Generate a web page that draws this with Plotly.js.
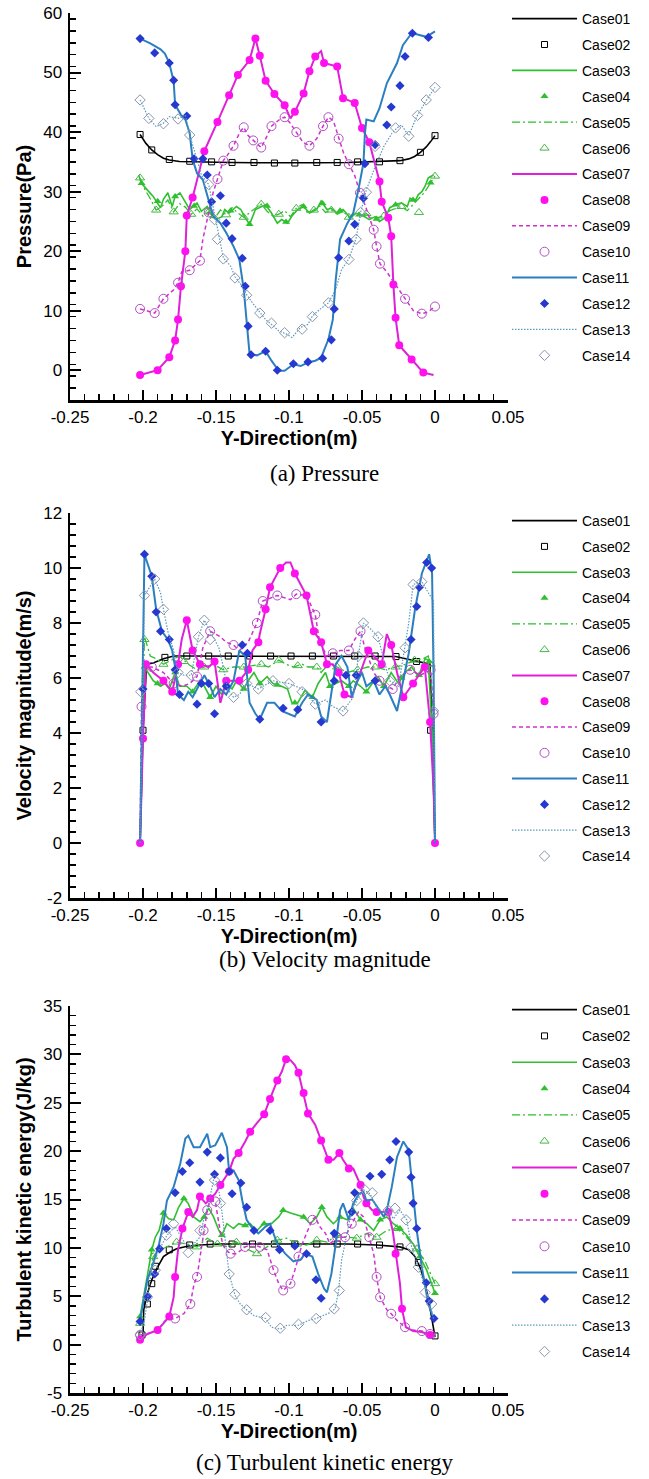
<!DOCTYPE html>
<html><head><meta charset="utf-8">
<script src="https://cdn.plot.ly/plotly-3.0.1.min.js"></script>
<style>html,body{margin:0;padding:0;background:#fff}</style>
</head><body>
<div id="chart" style="width:649px;height:1479px"></div>
<script>
const caseNames = ['Case01','Case02','Case03','Case04','Case05','Case06','Case07','Case08','Case09','Case10','Case11','Case12','Case13','Case14'];
const xTickVals = [-0.25,-0.2,-0.15,-0.1,-0.05,0,0.05];
const xTickText = ['-0.25','-0.2','-0.15','-0.1','-0.05','0','0.05'];
const aTickVals = [0,10,20,30,40,50,60];
const aTickText = ['0','10','20','30','40','50','60'];
const bTickVals = [-2,0,2,4,6,8,10,12];
const bTickText = ['-2','0','2','4','6','8','10','12'];
const cTickVals = [-5,0,5,10,15,20,25,30,35];
const cTickText = ['-5','0','5','10','15','20','25','30','35'];
const titleA = 'Pressure(Pa)', titleB = 'Velocity magnitude(m/s)', titleC = 'Turbulent kinetic energy(J/kg)';
const xTitle = 'Y-Direction(m)';
const captions = ['(a) Pressure','(b) Velocity magnitude','(c) Turbulent kinetic energy'];

// ---------- (a) Pressure ----------
const aX01=[-0.202,-0.198,-0.194,-0.19,-0.186,-0.182,-0.175,-0.168,-0.155,-0.14,-0.12,-0.1,-0.08,-0.06,-0.04,-0.03,-0.024,-0.018,-0.014,-0.01,-0.006,-0.003,0];
const aY01=[39.6,38.1,37.0,36.2,35.6,35.3,35.05,35.0,34.95,34.9,34.85,34.8,34.85,34.9,35.0,35.1,35.2,35.5,35.9,36.6,37.5,38.4,39.4];
const aX02=[-0.202,-0.194,-0.182,-0.168,-0.153,-0.139,-0.124,-0.11,-0.096,-0.081,-0.067,-0.053,-0.038,-0.024,-0.01,0];
const aY02=[39.6,37.0,35.4,35.1,35.0,34.9,34.9,34.8,34.8,34.9,34.9,35.0,35.0,35.2,36.6,39.4];
const aX03=[-0.203,-0.201,-0.196,-0.193,-0.191,-0.188,-0.186,-0.183,-0.18,-0.178,-0.1747,-0.1712,-0.168,-0.163,-0.16,-0.156,-0.153,-0.15,-0.146,-0.144,-0.141,-0.136,-0.133,-0.13,-0.127,-0.123,-0.119,-0.116,-0.112,-0.108,-0.105,-0.101,-0.098,-0.094,-0.09,-0.086,-0.081,-0.078,-0.074,-0.071,-0.067,-0.063,-0.058,-0.054,-0.049,-0.045,-0.041,-0.038,-0.034,-0.031,-0.027,-0.023,-0.019,-0.017,-0.0137,-0.0114,-0.009,-0.0068,-0.0046,-0.001];
const aY03=[32.8,31.4,30.0,29.2,28.4,27.3,28.7,29.8,27.5,29.2,29.8,28.4,27.0,28.1,26.7,27.5,26.1,25.3,25.8,27.0,26.4,27.5,27.0,25.6,24.5,27.0,27.5,27.8,26.4,24.7,25.3,24.7,25.9,27.0,27.5,26.4,27.0,28.4,27.0,27.2,26.4,27.0,25.6,26.4,25.9,25.3,25.8,25.0,25.6,27.3,27.8,28.1,27.5,28.9,28.4,29.5,30.0,30.9,32.3,32.8];
const aX04=[-0.201,-0.19,-0.178,-0.165,-0.152,-0.14,-0.127,-0.115,-0.102,-0.09,-0.077,-0.065,-0.052,-0.04,-0.027,-0.015,-0.003];
const aY04=[31.4,28.4,29.2,27.6,25.8,26.8,24.5,27.6,24.9,27.5,28.0,26.8,26.1,25.4,27.8,28.6,31.5];
const aX05=[-0.202,-0.199,-0.195,-0.191,-0.187,-0.183,-0.179,-0.175,-0.171,-0.167,-0.163,-0.159,-0.155,-0.151,-0.147,-0.143,-0.139,-0.135,-0.131,-0.127,-0.123,-0.119,-0.115,-0.111,-0.107,-0.103,-0.099,-0.095,-0.091,-0.087,-0.083,-0.079,-0.075,-0.071,-0.067,-0.063,-0.059,-0.055,-0.051,-0.047,-0.043,-0.039,-0.035,-0.031,-0.027,-0.023,-0.019,-0.015,-0.011,-0.007,-0.003,0];
const aY05=[32.3,30.5,28.8,26.9,27.5,28.6,26.6,28.0,27.4,26.2,27.1,25.9,26.6,25.5,26.9,26.1,27.3,26.4,25.7,26.5,27.2,27.9,26.7,25.9,26.2,26.8,25.8,27.2,27.8,26.3,26.9,27.6,26.5,26.9,26.2,26.7,25.7,26.4,25.8,26.3,25.4,25.7,25.9,26.8,27.2,27.5,26.8,27.8,28.8,29.9,31.5,32.6];
const aX06=[-0.202,-0.191,-0.179,-0.167,-0.155,-0.143,-0.131,-0.119,-0.107,-0.095,-0.083,-0.071,-0.059,-0.047,-0.035,-0.023,-0.011,0];
const aY06=[32.3,26.9,26.6,26.2,26.6,26.1,25.7,27.9,26.2,27.2,26.9,26.9,25.7,26.3,25.9,27.5,26.5,32.6];
const aX07=[-0.202,-0.19,-0.182,-0.178,-0.176,-0.174,-0.171,-0.17,-0.166,-0.158,-0.149,-0.141,-0.135,-0.127,-0.123,-0.12,-0.116,-0.11,-0.103,-0.099,-0.096,-0.09,-0.086,-0.082,-0.078,-0.076,-0.067,-0.063,-0.055,-0.05,-0.045,-0.038,-0.0365,-0.032,-0.03,-0.0285,-0.027,-0.0245,-0.016,-0.008,-0.001];
const aY07=[-0.8,0,2.2,5,8.5,14.1,20,26,29,36.8,41.7,46.2,49.6,52.1,55.7,52.8,48.6,46.4,44.5,42.3,43.4,46.5,50.2,52.7,53.6,51.6,51,45.7,44.9,40.7,38.3,31.7,28.3,25.6,22.5,14.4,8.8,4.2,1.8,-0.4,-0.8];
const aX08=[-0.202,-0.19,-0.182,-0.178,-0.176,-0.174,-0.171,-0.17,-0.166,-0.158,-0.149,-0.141,-0.135,-0.127,-0.123,-0.12,-0.116,-0.11,-0.103,-0.096,-0.09,-0.086,-0.082,-0.076,-0.067,-0.063,-0.055,-0.05,-0.045,-0.038,-0.0365,-0.032,-0.03,-0.0285,-0.027,-0.0245,-0.016,-0.008];
const aY08=[-0.8,0,2.2,5,8.5,14.1,20,26,29,36.8,41.7,46.2,49.6,52.1,55.7,52.8,48.6,46.4,44.5,43.4,46.5,50.2,52.7,51.6,51,45.7,44.9,40.7,38.3,31.7,28.3,25.6,22.5,14.4,8.8,4.2,1.8,-0.4];
const aX09=[-0.202,-0.197,-0.192,-0.186,-0.179,-0.176,-0.1735,-0.168,-0.161,-0.159,-0.155,-0.152,-0.149,-0.145,-0.1425,-0.138,-0.1336,-0.131,-0.128,-0.1245,-0.119,-0.1155,-0.112,-0.106,-0.103,-0.0995,-0.095,-0.0904,-0.086,-0.081,-0.0767,-0.073,-0.0696,-0.066,-0.0628,-0.059,-0.055,-0.0514,-0.048,-0.0445,-0.042,-0.04,-0.0377,-0.033,-0.026,-0.0205,-0.0148,-0.009,-0.0046,0];
const aY09=[10.3,9.9,9.6,12.0,13.5,14.7,16.5,16.8,18.4,22.0,26.5,29.8,32.1,35.2,36.0,37.7,40.0,40.8,39.4,38.6,37.4,39.1,41.0,42.2,42.5,41.6,40.0,38.3,37.7,38.9,41.0,42.5,41.9,38.9,36.6,34.6,32.7,29.8,27.8,25.3,23.6,20.8,17.9,16.5,14.0,12.0,10.0,9.5,9.8,10.7];
const aX10=[-0.202,-0.192,-0.186,-0.176,-0.168,-0.161,-0.155,-0.149,-0.145,-0.138,-0.131,-0.1245,-0.119,-0.112,-0.103,-0.095,-0.086,-0.0767,-0.073,-0.066,-0.059,-0.0514,-0.042,-0.04,-0.0377,-0.0205,-0.009,0];
const aY10=[10.3,9.6,12.0,14.7,16.8,18.4,26.5,32.1,35.2,37.7,40.8,38.6,37.4,41.0,42.5,40.0,37.7,41.0,42.5,38.9,34.6,29.8,23.6,20.8,17.9,12.0,9.5,10.7];
const aX11=[-0.202,-0.195,-0.188,-0.185,-0.182,-0.179,-0.178,-0.174,-0.171,-0.168,-0.166,-0.163,-0.159,-0.155,-0.152,-0.147,-0.143,-0.138,-0.134,-0.131,-0.129,-0.127,-0.122,-0.116,-0.112,-0.107,-0.103,-0.097,-0.092,-0.087,-0.082,-0.078,-0.073,-0.07,-0.068,-0.065,-0.06,-0.056,-0.052,-0.049,-0.048,-0.047,-0.042,-0.038,-0.033,-0.026,-0.022,-0.016,-0.012,-0.006,0];
const aY11=[55.7,54.9,53.9,53.2,51.6,48.5,44.6,42.9,42.1,39.8,35.4,33.1,32.0,28.7,25.9,24.7,23.1,20.8,18.6,13.6,7.4,2.7,2.5,3.2,1.6,-0.1,-0.1,1.0,0.7,1.3,1.6,2.1,5.2,8.5,15.2,22.0,24.7,26.4,30.9,34.8,39.8,42.1,41.8,44.0,48.2,51.6,54.6,56.6,56.4,56.0,56.9];
const aX12=[-0.202,-0.192,-0.182,-0.179,-0.178,-0.17,-0.165,-0.159,-0.156,-0.153,-0.147,-0.143,-0.139,-0.132,-0.13,-0.128,-0.126,-0.116,-0.108,-0.097,-0.087,-0.077,-0.071,-0.069,-0.066,-0.059,-0.055,-0.049,-0.048,-0.041,-0.033,-0.03,-0.024,-0.0205,-0.0155,-0.0045];
const aY12=[55.7,53.3,51.6,48.7,44.6,42.7,35.5,35.5,32.8,28.3,29.3,24.7,22.1,18.8,14.1,7.4,2.6,3.2,0,1.1,1.4,2.0,5.1,10.3,18.9,21.7,24.5,28.9,34.7,37.9,41.2,44.2,47.8,52.7,56.6,55.9];
const aX13=[-0.202,-0.196,-0.191,-0.186,-0.182,-0.175,-0.171,-0.168,-0.163,-0.16,-0.155,-0.152,-0.148,-0.145,-0.14,-0.137,-0.132,-0.129,-0.125,-0.12,-0.116,-0.112,-0.107,-0.102,-0.098,-0.092,-0.087,-0.084,-0.079,-0.073,-0.068,-0.064,-0.059,-0.054,-0.051,-0.047,-0.041,-0.035,-0.0295,-0.026,-0.023,-0.018,-0.0125,-0.006,0];
const aY13=[45.4,42.3,40.9,41.5,42.6,42.3,42.9,39.5,35.4,32.8,31.2,27.5,22.2,18.9,17.5,15.7,14.1,12.7,11.3,9.7,8.5,7.7,6.6,6.1,5.5,7.2,7.7,9.1,10.2,11.3,13.6,16.9,18.7,22.2,26.4,30.3,34.2,37.6,39.8,40.7,41.2,39.4,42.6,45.3,47.5];
const aX14=[-0.202,-0.196,-0.186,-0.176,-0.168,-0.155,-0.151,-0.149,-0.145,-0.137,-0.129,-0.12,-0.112,-0.103,-0.091,-0.084,-0.073,-0.059,-0.054,-0.051,-0.047,-0.041,-0.027,-0.018,-0.012,-0.006,0];
const aY14=[45.4,42.3,41.4,42.2,39.5,31.2,25.3,22.0,18.7,15.5,12.6,9.6,7.9,6.3,6.9,9.0,11.3,18.6,22.0,26.5,29.9,37.6,40.7,39.3,42.8,45.4,47.5];

// ---------- (b) Velocity magnitude ----------
const bX01=[-0.202,-0.2,-0.1975,-0.193,-0.186,-0.179,-0.17,-0.15,-0.12,-0.1,-0.08,-0.06,-0.04,-0.027,-0.02,-0.0126,-0.0034,-0.002,0];
const bY01=[0,4.1,6.5,6.55,6.7,6.8,6.8,6.8,6.8,6.8,6.8,6.8,6.8,6.78,6.7,6.6,6.5,4.1,0];
const bX02=[-0.2,-0.185,-0.17,-0.155,-0.1416,-0.127,-0.1126,-0.0986,-0.084,-0.0696,-0.055,-0.041,-0.0267,-0.0126,-0.003];
const bY02=[4.1,6.75,6.8,6.8,6.8,6.8,6.8,6.8,6.8,6.8,6.8,6.8,6.78,6.6,4.1];
const bX03=[-0.202,-0.199,-0.193,-0.188,-0.185,-0.182,-0.178,-0.175,-0.17,-0.166,-0.161,-0.158,-0.154,-0.15,-0.146,-0.143,-0.139,-0.136,-0.131,-0.128,-0.124,-0.12,-0.115,-0.111,-0.105,-0.101,-0.098,-0.094,-0.089,-0.084,-0.08,-0.075,-0.072,-0.068,-0.064,-0.059,-0.056,-0.051,-0.047,-0.043,-0.039,-0.035,-0.03,-0.025,-0.0205,-0.016,-0.0114,-0.0068,-0.0046,-0.002,0];
const bY03=[0,6.4,5.9,5.7,5.8,5.6,6.2,5.7,5.7,5.5,5.9,5.7,5.3,5.7,5.4,5.8,5.6,5.9,5.6,5.9,6.2,5.8,6.05,5.8,5.7,5.6,5.1,5.1,5.55,5.3,5.8,6.2,5.7,5.8,5.9,5.7,5.9,5.7,5.5,5.8,6.05,5.7,6.2,5.8,6.2,6.4,6.05,6.7,6.65,4.0,0];
const bX04=[-0.199,-0.19,-0.178,-0.166,-0.154,-0.143,-0.131,-0.12,-0.108,-0.096,-0.084,-0.072,-0.059,-0.047,-0.035,-0.023,-0.011,-0.004];
const bY04=[6.4,5.8,6.2,5.5,5.3,5.8,5.6,5.8,5.75,5.1,5.3,5.7,5.7,5.5,5.7,6.0,6.1,6.6];
const bX05=[-0.202,-0.199,-0.195,-0.191,-0.186,-0.179,-0.175,-0.169,-0.163,-0.158,-0.152,-0.145,-0.138,-0.131,-0.124,-0.119,-0.114,-0.107,-0.102,-0.097,-0.091,-0.087,-0.081,-0.078,-0.073,-0.067,-0.06,-0.053,-0.046,-0.041,-0.034,-0.027,-0.02,-0.0137,-0.008,-0.0046,-0.002,0];
const bY05=[0,7.5,6.8,6.7,6.5,6.7,6.8,6.5,6.3,6.4,6.5,6.3,6.4,6.4,6.45,6.5,6.4,6.65,6.5,6.4,6.5,6.4,6.4,6.2,6.5,6.4,6.2,6.3,6.4,6.4,6.3,6.4,6.5,6.65,6.7,6.8,5.5,0];
const bX06=[-0.199,-0.186,-0.172,-0.158,-0.145,-0.131,-0.119,-0.107,-0.094,-0.081,-0.067,-0.053,-0.041,-0.027,-0.014,-0.003];
const bY06=[7.4,6.5,6.6,6.4,6.3,6.4,6.5,6.65,6.45,6.4,6.4,6.3,6.4,6.4,6.65,6.5];
const bX07=[-0.202,-0.2,-0.198,-0.193,-0.186,-0.18,-0.176,-0.1735,-0.17,-0.167,-0.166,-0.161,-0.155,-0.151,-0.147,-0.143,-0.14,-0.134,-0.128,-0.125,-0.121,-0.12,-0.116,-0.113,-0.106,-0.102,-0.099,-0.096,-0.088,-0.083,-0.078,-0.074,-0.07,-0.066,-0.062,-0.057,-0.0525,-0.0457,-0.0365,-0.033,-0.03,-0.026,-0.0217,-0.015,-0.007,-0.0034,-0.001,0];
const bY07=[0,3.8,6.5,6.2,5.9,5.5,6.5,7.4,8.1,7.3,7.0,6.5,6.4,6.6,5.1,5.9,5.9,5.9,6.3,7.0,7.3,7.6,8.5,9.3,10.0,10.2,10.2,9.8,9.0,7.7,7.3,6.5,6.5,6.2,5.4,5.3,6.0,7.0,6.5,7.6,7.2,6.2,5.3,5.8,6.4,4.4,2,0];
const bX08=[-0.202,-0.2,-0.198,-0.186,-0.18,-0.176,-0.17,-0.166,-0.161,-0.151,-0.143,-0.134,-0.128,-0.121,-0.116,-0.113,-0.106,-0.096,-0.088,-0.083,-0.078,-0.074,-0.066,-0.062,-0.0457,-0.0365,-0.03,-0.0217,-0.015,-0.007,-0.0034,0];
const bY08=[0,3.8,6.5,5.9,5.5,6.5,8.1,7.0,6.5,6.6,5.9,5.9,6.3,7.3,8.5,9.3,10.0,9.8,9.0,7.7,7.3,6.5,6.2,5.4,7.0,6.5,7.2,5.3,5.8,6.4,4.4,0];
const bX09=[-0.202,-0.201,-0.2,-0.194,-0.186,-0.179,-0.173,-0.168,-0.163,-0.159,-0.154,-0.147,-0.143,-0.138,-0.134,-0.128,-0.122,-0.118,-0.108,-0.099,-0.095,-0.088,-0.082,-0.079,-0.074,-0.07,-0.065,-0.059,-0.055,-0.051,-0.048,-0.042,-0.038,-0.033,-0.029,-0.024,-0.017,-0.01,-0.003,-0.001,0];
const bY09=[0,4.96,6.4,6.4,6.2,5.8,5.7,5.8,6.05,7.1,7.7,7.5,7.3,7.2,7.0,7.3,8.0,8.8,9.0,8.85,9.05,9.0,8.3,7.3,6.8,6.9,7.0,7.0,7.4,7.7,7.1,6.2,5.9,5.7,5.6,6.05,6.3,6.1,6.3,4.7,0];
const bX10=[-0.201,-0.194,-0.179,-0.163,-0.154,-0.138,-0.122,-0.118,-0.108,-0.095,-0.082,-0.07,-0.059,-0.051,-0.038,-0.029,-0.017,-0.003,-0.001];
const bY10=[4.96,6.4,5.8,6.05,7.7,7.2,8.0,8.8,9.0,9.05,8.3,6.9,7.0,7.7,5.9,5.6,6.3,6.3,4.7];
const bX11=[-0.202,-0.199,-0.194,-0.191,-0.187,-0.183,-0.18,-0.178,-0.176,-0.172,-0.169,-0.166,-0.161,-0.158,-0.154,-0.151,-0.147,-0.143,-0.138,-0.134,-0.13,-0.127,-0.123,-0.12,-0.115,-0.11,-0.105,-0.1,-0.096,-0.091,-0.087,-0.081,-0.078,-0.074,-0.071,-0.068,-0.064,-0.06,-0.057,-0.054,-0.05,-0.047,-0.042,-0.038,-0.034,-0.031,-0.026,-0.0217,-0.018,-0.0137,-0.009,-0.004,-0.002,-0.001,0];
const bY11=[0,10.5,9.7,8.5,7.7,7.4,7.0,6.4,5.4,5.2,5.5,5.3,5.8,6.1,5.7,5.3,5.6,5.4,5.9,7.0,6.8,5.1,4.7,4.5,5.1,5.1,4.8,4.7,4.6,5.1,5.4,5.2,4.6,4.4,5.4,6.5,6.8,6.4,5.3,5.8,6.2,5.7,5.9,5.4,5.7,5.4,4.8,5.9,6.9,8.5,9.8,10.5,9.8,6.2,0];
const bX12=[-0.2,-0.199,-0.194,-0.191,-0.188,-0.182,-0.178,-0.175,-0.163,-0.16,-0.155,-0.151,-0.143,-0.132,-0.1285,-0.12,-0.104,-0.094,-0.078,-0.069,-0.061,-0.054,-0.041,-0.0164,-0.0125,-0.0107,-0.0057,-0.0023];
const bY12=[5.6,10.5,9.7,8.4,7.7,7.4,6.3,5.4,5.05,5.8,5.8,4.7,5.7,7.2,6.9,4.5,4.9,4.85,4.4,5.9,6.1,6.1,5.9,7.4,8.6,9.3,10.2,10.0];
const bX13=[-0.202,-0.199,-0.192,-0.188,-0.186,-0.183,-0.179,-0.176,-0.172,-0.167,-0.162,-0.158,-0.154,-0.151,-0.148,-0.145,-0.142,-0.138,-0.134,-0.129,-0.121,-0.111,-0.1,-0.091,-0.082,-0.075,-0.07,-0.063,-0.056,-0.0525,-0.049,-0.0445,-0.039,-0.035,-0.031,-0.025,-0.0205,-0.018,-0.015,-0.009,-0.0046,-0.001,0];
const bY13=[0,9.0,9.6,9.1,8.5,7.7,7.0,6.2,6.1,6.1,7.5,8.1,7.7,7.4,7.1,6.4,5.6,5.3,5.4,5.8,5.6,5.9,5.8,5.6,5.05,5.2,4.96,4.8,5.3,6.8,8.0,7.8,7.5,6.65,5.9,5.7,7.1,8.0,9.4,9.5,9.1,8.8,0];
const bX14=[-0.2015,-0.199,-0.192,-0.186,-0.176,-0.167,-0.162,-0.158,-0.154,-0.138,-0.129,-0.121,-0.111,-0.1,-0.091,-0.082,-0.063,-0.0525,-0.049,-0.039,-0.031,-0.0205,-0.015,-0.009,-0.001];
const bY14=[5.5,9.0,9.6,8.5,6.2,6.1,7.5,8.1,7.4,5.3,5.8,5.6,5.9,5.8,5.5,5.05,4.8,6.8,8.0,7.5,5.9,7.1,9.4,9.5,4.8];

// ---------- (c) Turbulent kinetic energy ----------
const cX01=[-0.202,-0.2,-0.1995,-0.197,-0.194,-0.19,-0.186,-0.181,-0.177,-0.169,-0.161,-0.147,-0.12,-0.1,-0.08,-0.06,-0.04,-0.024,-0.018,-0.0137,-0.01,-0.0068,-0.0039,-0.0016,0];
const cY01=[0.6,1.0,3.6,5.3,6.7,8.0,9.1,9.6,9.9,10.2,10.3,10.4,10.4,10.4,10.4,10.4,10.3,10.1,9.8,9.1,7.9,6.3,4.2,2.2,0.8];
const cX02=[-0.2007,-0.197,-0.194,-0.1915,-0.182,-0.168,-0.154,-0.139,-0.125,-0.11,-0.096,-0.081,-0.067,-0.053,-0.038,-0.024,-0.0114,0];
const cY02=[1.0,4.2,6.3,8.1,9.8,10.3,10.4,10.4,10.4,10.4,10.4,10.4,10.4,10.4,10.3,10.1,8.5,0.9];
const cX03=[-0.202,-0.1995,-0.196,-0.194,-0.1916,-0.189,-0.186,-0.1824,-0.179,-0.1756,-0.172,-0.169,-0.1653,-0.161,-0.158,-0.155,-0.1517,-0.148,-0.146,-0.1425,-0.138,-0.1345,-0.13,-0.1266,-0.122,-0.1174,-0.112,-0.107,-0.104,-0.099,-0.0946,-0.09,-0.0855,-0.081,-0.0775,-0.074,-0.0696,-0.065,-0.06,-0.056,-0.051,-0.0467,-0.042,-0.0376,-0.033,-0.0285,-0.024,-0.0194,-0.015,-0.0103,-0.0057,-0.0023,0];
const cY03=[2.9,4.9,8.0,9.8,11.1,11.8,13.6,13.0,12.9,14.2,15.1,14.6,13.2,12.7,13.2,14.1,13.2,11.8,11.3,12.5,12.0,12.5,12.3,12.5,11.8,12.5,12.5,13.2,13.9,13.6,13.4,13.2,12.5,13.2,14.2,13.2,12.5,13.2,12.9,14.1,12.9,12.5,11.8,12.9,13.2,12.5,12.0,11.3,10.4,9.1,7.7,6.3,5.3];
const cX04=[-0.202,-0.194,-0.186,-0.172,-0.158,-0.146,-0.13,-0.117,-0.104,-0.09,-0.0775,-0.065,-0.051,-0.0376,-0.024,-0.0103,0];
const cY04=[2.9,9.8,13.6,15.1,13.2,11.3,12.3,12.5,13.9,13.2,14.2,13.2,12.9,12.9,12.0,9.1,5.3];
const cX05=[-0.202,-0.1995,-0.196,-0.193,-0.188,-0.1836,-0.177,-0.17,-0.163,-0.156,-0.149,-0.1425,-0.136,-0.129,-0.122,-0.115,-0.108,-0.1015,-0.0946,-0.088,-0.081,-0.074,-0.067,-0.06,-0.0536,-0.0467,-0.04,-0.033,-0.026,-0.0194,-0.0125,-0.0068,-0.0023,0];
const cY05=[2.2,4.9,7.0,9.1,9.8,10.1,10.6,10.4,10.1,11.0,10.4,10.1,10.6,9.9,9.4,10.1,10.8,11.0,10.4,10.3,10.8,10.6,11.3,11.1,11.0,11.5,11.1,11.8,12.0,11.1,9.9,8.6,7.0,6.3];
const cX06=[-0.202,-0.193,-0.177,-0.163,-0.149,-0.136,-0.122,-0.108,-0.0946,-0.081,-0.067,-0.0536,-0.04,-0.026,-0.0125,0];
const cY06=[2.2,9.1,10.6,10.1,10.4,10.6,9.4,10.8,10.4,10.8,11.3,11.0,11.1,12.0,9.9,6.3];
const cX07=[-0.202,-0.197,-0.19,-0.184,-0.182,-0.179,-0.178,-0.176,-0.173,-0.169,-0.166,-0.163,-0.161,-0.157,-0.154,-0.1505,-0.147,-0.144,-0.141,-0.138,-0.1345,-0.13,-0.1266,-0.122,-0.117,-0.113,-0.108,-0.105,-0.102,-0.099,-0.096,-0.0935,-0.09,-0.087,-0.082,-0.078,-0.075,-0.073,-0.0695,-0.0655,-0.063,-0.059,-0.056,-0.053,-0.051,-0.049,-0.047,-0.043,-0.04,-0.035,-0.032,-0.029,-0.027,-0.024,-0.0226,-0.02,-0.015,-0.009,-0.0034,0];
const cY07=[0.5,1.1,1.5,2.5,2.9,4.9,7.0,9.8,12.0,13.7,13.2,13.9,15.3,14.6,15.1,15.6,16.5,17.2,17.9,19.2,19.8,21.0,22.0,22.9,23.8,25.4,27.3,28.2,29.5,29.4,28.9,28.1,26.0,23.9,22.7,21.1,19.8,19.1,19.1,19.8,19.1,18.2,18.2,17.2,16.5,15.3,14.6,13.9,13.7,13.7,13.7,11.8,9.4,6.3,3.7,1.8,1.4,1.3,1.0,0.8];
const cX08=[-0.202,-0.19,-0.182,-0.178,-0.173,-0.169,-0.161,-0.154,-0.147,-0.141,-0.1345,-0.1266,-0.117,-0.113,-0.108,-0.102,-0.0935,-0.09,-0.087,-0.078,-0.073,-0.0655,-0.059,-0.051,-0.047,-0.04,-0.032,-0.027,-0.0226,-0.0034];
const cY08=[0.5,1.5,2.9,7.0,12.0,13.7,15.3,15.1,16.5,17.9,19.8,22.0,23.8,25.4,27.3,29.5,28.1,26.0,23.9,21.1,19.1,19.8,18.2,16.5,14.6,13.7,13.7,9.4,3.7,1.0];
const cX09=[-0.202,-0.197,-0.19,-0.1847,-0.178,-0.172,-0.1676,-0.165,-0.163,-0.161,-0.1585,-0.156,-0.154,-0.1505,-0.148,-0.146,-0.1437,-0.14,-0.136,-0.13,-0.125,-0.12,-0.115,-0.1106,-0.107,-0.104,-0.099,-0.096,-0.0935,-0.091,-0.088,-0.084,-0.082,-0.079,-0.075,-0.072,-0.067,-0.064,-0.0616,-0.057,-0.0525,-0.049,-0.045,-0.042,-0.04,-0.0376,-0.033,-0.03,-0.026,-0.0205,-0.015,-0.009,-0.0034,0];
const cY09=[1.0,1.1,1.5,2.5,2.7,3.2,4.2,6.3,7.0,9.1,11.8,13.9,14.9,14.8,12.5,10.8,9.8,9.4,9.4,10.1,10.4,10.1,9.8,7.7,6.3,5.6,6.3,7.7,9.1,10.4,11.5,12.9,13.2,12.2,11.5,10.4,11.1,11.1,11.1,12.5,13.7,13.2,11.1,9.4,7.0,4.9,3.6,3.2,2.5,1.8,1.5,1.4,1.1,1.0];
const cX10=[-0.202,-0.178,-0.1676,-0.163,-0.1585,-0.156,-0.1505,-0.14,-0.13,-0.12,-0.1106,-0.104,-0.099,-0.0935,-0.084,-0.067,-0.0616,-0.057,-0.045,-0.04,-0.0376,-0.03,-0.0205,-0.009,-0.0034];
const cY10=[1.0,2.7,4.2,7.0,11.8,13.9,14.8,9.4,10.1,10.1,7.7,5.6,6.3,9.1,12.9,11.1,11.1,12.5,11.1,7.0,4.9,3.2,1.8,1.4,1.1];
const cX11=[-0.202,-0.2007,-0.197,-0.193,-0.189,-0.186,-0.1836,-0.179,-0.1745,-0.171,-0.169,-0.1653,-0.161,-0.156,-0.154,-0.1505,-0.146,-0.1425,-0.141,-0.138,-0.1345,-0.132,-0.129,-0.125,-0.121,-0.116,-0.113,-0.108,-0.1026,-0.097,-0.092,-0.089,-0.084,-0.08,-0.076,-0.074,-0.071,-0.068,-0.065,-0.063,-0.059,-0.056,-0.052,-0.049,-0.047,-0.043,-0.039,-0.035,-0.033,-0.0296,-0.026,-0.0217,-0.018,-0.016,-0.0125,-0.009,-0.0046,-0.001];
const cY11=[2.5,3.6,6.7,8.4,10.4,12.5,14.9,16.3,18.7,21.3,21.6,20.4,20.4,21.8,20.4,20.6,21.9,20.4,17.9,18.0,17.0,14.9,12.9,12.0,11.5,12.2,12.5,10.4,9.4,8.6,8.8,9.4,9.1,7.3,5.8,5.4,7.3,10.4,13.9,14.6,12.9,14.6,15.6,15.8,14.9,15.0,14.1,13.2,13.9,16.3,19.4,21.0,20.1,17.3,11.8,8.0,4.2,2.7];
const cX12=[-0.202,-0.1966,-0.192,-0.1886,-0.184,-0.178,-0.173,-0.168,-0.161,-0.156,-0.151,-0.147,-0.141,-0.139,-0.133,-0.129,-0.124,-0.113,-0.1065,-0.096,-0.088,-0.0815,-0.078,-0.069,-0.057,-0.055,-0.0445,-0.0365,-0.031,-0.0267,-0.018,-0.0164,-0.015,-0.0125,-0.006,-0.004,-0.0007];
const cY12=[2.4,5.0,7.3,9.9,12.0,15.7,17.9,18.8,16.8,19.9,17.6,19.3,17.9,15.6,16.7,14.2,11.8,11.8,9.8,10.2,9.4,6.7,4.8,11.5,13.7,15.7,17.4,17.6,19.1,21.0,19.9,17.3,14.6,12.0,6.4,4.5,2.7];
const cX13=[-0.202,-0.199,-0.196,-0.194,-0.189,-0.1836,-0.178,-0.1745,-0.171,-0.1665,-0.161,-0.1585,-0.155,-0.1517,-0.149,-0.1466,-0.1437,-0.141,-0.137,-0.1334,-0.129,-0.124,-0.116,-0.112,-0.106,-0.1015,-0.0935,-0.0867,-0.0814,-0.0764,-0.072,-0.0684,-0.066,-0.064,-0.06,-0.057,-0.052,-0.049,-0.0445,-0.04,-0.035,-0.032,-0.0285,-0.024,-0.0194,-0.016,-0.0114,-0.0068,-0.0034,-0.001];
const cY13=[1.0,2.5,5.6,8.0,9.8,11.3,12.2,11.3,10.4,10.2,11.1,12.9,14.6,17.0,16.8,14.6,11.1,7.3,5.1,4.2,3.6,3.0,2.7,1.8,1.6,2.0,2.0,2.5,2.7,3.0,3.3,3.7,5.6,8.7,11.5,13.9,15.3,16.0,15.6,14.2,13.6,13.9,13.0,13.9,12.9,10.1,8.0,6.0,4.2,2.7];
const cX14=[-0.202,-0.197,-0.1916,-0.184,-0.179,-0.169,-0.161,-0.151,-0.147,-0.141,-0.137,-0.129,-0.116,-0.106,-0.0935,-0.0814,-0.069,-0.0655,-0.0536,-0.048,-0.043,-0.032,-0.0274,-0.0198,-0.0164,-0.0114,-0.0068,-0.0023];
const cY14=[1.0,4.9,7.7,11.3,12.5,9.5,11.8,17.0,14.6,7.3,5.2,3.6,2.8,1.7,2.1,2.7,3.7,5.6,14.9,16.0,15.7,13.9,14.1,12.9,10.1,8.0,5.4,4.2];

// ---------- styles ----------
const styles = [
  {mode:'lines', line:{color:'#000000', width:1.6}},
  {mode:'markers', marker:{symbol:'square-open', color:'#000000', size:6, line:{width:1}}},
  {mode:'lines', line:{color:'#2fbf2f', width:1.6}},
  {mode:'markers', marker:{symbol:'triangle-up', color:'#2fbf2f', size:7}},
  {mode:'lines', line:{color:'#2fbf2f', width:1.3, dash:'8px,3px,2px,3px'}},
  {mode:'markers', marker:{symbol:'triangle-up-open', color:'#45b845', size:8, line:{width:1}}},
  {mode:'lines', line:{color:'#e020d8', width:2}},
  {mode:'markers', marker:{symbol:'circle', color:'#ff10ee', size:8}},
  {mode:'lines', line:{color:'#d030d0', width:1.5, dash:'4px,3px'}},
  {mode:'markers', marker:{symbol:'circle-open', color:'#b050c0', size:9, line:{width:1}}},
  {mode:'lines', line:{color:'#2b7fc0', width:2}},
  {mode:'markers', marker:{symbol:'diamond', color:'#2538d0', size:7}},
  {mode:'lines', line:{color:'#5a9ac0', width:1.2, dash:'1.5px,1.5px'}},
  {mode:'markers', marker:{symbol:'diamond-open', color:'#8a94a8', size:8, line:{width:1}}}
];

const panelA=[[aX01,aY01],[aX02,aY02],[aX03,aY03],[aX04,aY04],[aX05,aY05],[aX06,aY06],[aX07,aY07],[aX08,aY08],[aX09,aY09],[aX10,aY10],[aX11,aY11],[aX12,aY12],[aX13,aY13],[aX14,aY14]];
const panelB=[[bX01,bY01],[bX02,bY02],[bX03,bY03],[bX04,bY04],[bX05,bY05],[bX06,bY06],[bX07,bY07],[bX08,bY08],[bX09,bY09],[bX10,bY10],[bX11,bY11],[bX12,bY12],[bX13,bY13],[bX14,bY14]];
const panelC=[[cX01,cY01],[cX02,cY02],[cX03,cY03],[cX04,cY04],[cX05,cY05],[cX06,cY06],[cX07,cY07],[cX08,cY08],[cX09,cY09],[cX10,cY10],[cX11,cY11],[cX12,cY12],[cX13,cY13],[cX14,cY14]];

const traces=[];
function addPanel(data, xa, ya, leg){
  data.forEach(function(d,i){
    const s=styles[i];
    const t={type:'scatter', name:caseNames[i], x:d[0], y:d[1], xaxis:xa, yaxis:ya,
      legend:leg, legendgroup:leg+'_'+i, mode:s.mode, hoverinfo:'skip', cliponaxis:false};
    if(s.line) t.line=s.line;
    if(s.marker) t.marker=s.marker;
    traces.push(t);
  });
}
addPanel(panelA,'x','y','legend');
addPanel(panelB,'x2','y2','legend2');
addPanel(panelC,'x3','y3','legend3');

const W=649, H=1479, ML=70, MR=141;
const PW=W-ML-MR;
function ydom(top,bot){return [1-bot/H, 1-top/H];}
function steps(lo, hi, step){
  const out=[]; const n=Math.round((hi-lo)/step);
  for(let k=0;k<=n;k++){ out.push(+(lo+k*step).toFixed(6)); }
  return out;
}
const fontSans='Liberation Sans, Arial, sans-serif';

function xAxis(anchor){
  return {anchor:anchor, domain:[0,1], range:[-0.25,0.05], tickmode:'array', tickvals:xTickVals, ticktext:xTickText,
    showline:true, linewidth:2.5, linecolor:'#000', ticks:'inside', ticklen:10, tickwidth:2, tickcolor:'#000',
    minor:{tickmode:'array', tickvals:steps(-0.25,0.05,0.01), ticks:'inside', ticklen:6, tickwidth:1.5, tickcolor:'#000', showgrid:false},
    showgrid:false, zeroline:false, tickfont:{family:fontSans, size:17, color:'#000'}, ticklabelstandoff:0,
    title:{text:xTitle, font:{family:fontSans, size:20, weight:'bold', color:'#000'}, standoff:4}, fixedrange:true};
}
function yAxis(anchor, dom, range, tv, tt, minorD, title){
  return {anchor:anchor, domain:dom, range:range, tickmode:'array', tickvals:tv, ticktext:tt,
    showline:true, linewidth:2.5, linecolor:'#000', ticks:'inside', ticklen:11, tickwidth:2, tickcolor:'#000',
    minor:{tickmode:'array', tickvals:steps(range[0],range[1],minorD), ticks:'inside', ticklen:6, tickwidth:1.5, tickcolor:'#000', showgrid:false},
    showgrid:false, zeroline:false, tickfont:{family:fontSans, size:17, color:'#000'}, ticklabelstandoff:2,
    title:{text:title, font:{family:fontSans, size:20, weight:'bold', color:'#000'}, standoff:6}, fixedrange:true};
}
function legendAt(topPx, gap){
  return {x:(507-ML)/PW, xanchor:'left', y:1-topPx/H, yanchor:'top', font:{family:fontSans, size:14, color:'#000'},
    itemwidth:65, tracegroupgap:gap, traceorder:'grouped', bgcolor:'rgba(0,0,0,0)', borderwidth:0};
}
const capX=(324.5-ML)/PW;
const capFont={family:'Liberation Serif, Times New Roman, serif', size:23, color:'#000'};
const layout={
  width:W, height:H, margin:{l:ML, r:MR, t:0, b:0}, paper_bgcolor:'#fff', plot_bgcolor:'#fff', showlegend:true,
  font:{family:fontSans, color:'#000'},
  xaxis:xAxis('y'), xaxis2:xAxis('y2'), xaxis3:xAxis('y3'),
  yaxis:yAxis('x', ydom(13,400), [-5,60], aTickVals, aTickText, 2, titleA),
  yaxis2:yAxis('x2', ydom(513,898), [-2,12], bTickVals, bTickText, 0.4, titleB),
  yaxis3:yAxis('x3', ydom(1006,1393), [-5,35], cTickVals, cTickText, 1, titleC),
  legend:legendAt(3,4.7), legend2:legendAt(505,4.6), legend3:legendAt(994,5.1),
  annotations:[
    {text:captions[0], xref:'paper', yref:'paper', x:capX, y:1-473/H, xanchor:'center', yanchor:'middle', showarrow:false, font:capFont},
    {text:captions[1], xref:'paper', yref:'paper', x:capX, y:1-959/H, xanchor:'center', yanchor:'middle', showarrow:false, font:capFont},
    {text:captions[2], xref:'paper', yref:'paper', x:capX, y:1-1462/H, xanchor:'center', yanchor:'middle', showarrow:false, font:capFont}
  ]
};
Plotly.newPlot('chart', traces, layout, {displayModeBar:false, staticPlot:true});
</script>
</body></html>
